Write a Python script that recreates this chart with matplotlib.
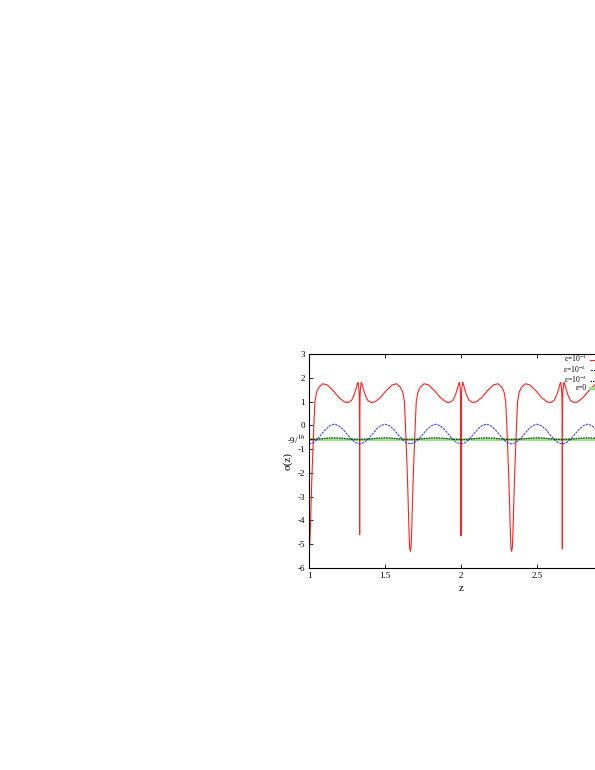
import matplotlib
matplotlib.use("Agg")
import matplotlib.pyplot as plt

# sigma(z) for several epsilon

# eps = 1e-1 (red), dense around the deep dips and the narrow spikes
z_red = [
    1.000, 1.005, 1.010, 1.015, 1.020, 1.026, 1.032, 1.039, 1.050, 1.065, 1.090, 1.120,
    1.160, 1.200, 1.235, 1.258, 1.280, 1.298, 1.310, 1.318, 1.323, 1.328, 1.331, 1.3325,
    1.3333,
    1.3341, 1.3356, 1.3386, 1.3436, 1.3486, 1.3566, 1.3686, 1.3866, 1.4086, 1.4316, 1.4666,
    1.5066, 1.5466, 1.5766, 1.6016, 1.6166, 1.6276, 1.6346, 1.6406, 1.6466, 1.6516, 1.6566,
    1.6616,
    1.6667, 1.6717, 1.6767, 1.6817, 1.6867, 1.6927, 1.6987, 1.7057, 1.7167, 1.7317, 1.7567,
    1.7867, 1.8267, 1.8667, 1.9017, 1.9247, 1.9467, 1.9647, 1.9767, 1.9847, 1.9897, 1.9947,
    1.9977, 1.9992, 2.0000,
    2.0008, 2.0023, 2.0053, 2.0103, 2.0153, 2.0233, 2.0353, 2.0533, 2.0753, 2.0983, 2.1333,
    2.1733, 2.2133, 2.2433, 2.2683, 2.2833, 2.2943, 2.3013, 2.3073, 2.3133, 2.3183, 2.3233,
    2.3283,
    2.3333, 2.3383, 2.3433, 2.3483, 2.3533, 2.3593, 2.3653, 2.3723, 2.3833, 2.3983, 2.4233,
    2.4533, 2.4933, 2.5333, 2.5683, 2.5913, 2.6133, 2.6313, 2.6433, 2.6513, 2.6563, 2.6613,
    2.6643, 2.6658, 2.6667,
    2.6675, 2.6690, 2.6720, 2.6770, 2.6820, 2.6900, 2.7020, 2.7200, 2.7420, 2.7650, 2.8000,
    2.8400, 2.8800, 2.9100, 2.9350, 2.9500, 2.9610, 2.9680, 2.9740, 2.9800, 2.9850, 2.9900,
    2.9950, 3.0000,
]
sig_red = [
    -5.2, -5.0, -4.2, -3.0, -2.0, -1.0, 0.0, 1.0, 1.4, 1.6, 1.75, 1.7,
    1.45, 1.15, 0.98, 0.96, 1.05, 1.3, 1.55, 1.75, 1.8, 1.55, 1.2, 0.0,
    -4.6,
    0.0, 1.2, 1.55, 1.8, 1.75, 1.55, 1.3, 1.05, 0.96, 0.98, 1.15,
    1.45, 1.7, 1.75, 1.6, 1.4, 1.0, 0.0, -1.0, -2.0, -3.0, -4.2,
    -5.1,
    -5.3, -5.1, -4.2, -3.0, -2.0, -1.0, 0.0, 1.0, 1.4, 1.6, 1.75,
    1.7, 1.45, 1.15, 0.98, 0.96, 1.05, 1.3, 1.55, 1.75, 1.8, 1.55,
    1.2, 0.0, -4.65,
    0.0, 1.2, 1.55, 1.8, 1.75, 1.55, 1.3, 1.05, 0.96, 0.98, 1.15,
    1.45, 1.7, 1.75, 1.6, 1.4, 1.0, 0.0, -1.0, -2.0, -3.0, -4.2,
    -5.1,
    -5.3, -5.1, -4.2, -3.0, -2.0, -1.0, 0.0, 1.0, 1.4, 1.6, 1.75,
    1.7, 1.45, 1.15, 0.98, 0.96, 1.05, 1.3, 1.55, 1.75, 1.8, 1.55,
    1.2, 0.0, -5.2,
    0.0, 1.2, 1.55, 1.8, 1.75, 1.55, 1.3, 1.05, 0.96, 0.98, 1.15,
    1.45, 1.7, 1.75, 1.6, 1.4, 1.0, 0.0, -1.0, -2.0, -3.0, -4.2,
    -5.0, -5.2,
]

# common grid for the two smooth curves
z_grid = [
    1.000, 1.028, 1.056, 1.083, 1.111, 1.139, 1.167, 1.194, 1.222, 1.250, 1.278, 1.306,
    1.333, 1.361, 1.389, 1.417, 1.444, 1.472, 1.500, 1.528, 1.556, 1.583, 1.611, 1.639,
    1.667, 1.694, 1.722, 1.750, 1.778, 1.806, 1.833, 1.861, 1.889, 1.917, 1.944, 1.972,
    2.000, 2.028, 2.056, 2.083, 2.111, 2.139, 2.167, 2.194, 2.222, 2.250, 2.278, 2.306,
    2.333, 2.361, 2.389, 2.417, 2.444, 2.472, 2.500, 2.528, 2.556, 2.583, 2.611, 2.639,
    2.667, 2.694, 2.722, 2.750, 2.778, 2.806, 2.833, 2.861, 2.889, 2.917, 2.944, 2.972,
    3.000,
]
# eps = 1e-2 (blue)
sig_blue = [
    -0.78, -0.73, -0.58, -0.37, -0.16, -0.01, 0.05, -0.01, -0.16, -0.37, -0.58, -0.73,
    -0.78, -0.73, -0.58, -0.37, -0.16, -0.01, 0.05, -0.01, -0.16, -0.37, -0.58, -0.73,
    -0.78, -0.73, -0.58, -0.37, -0.16, -0.01, 0.05, -0.01, -0.16, -0.37, -0.58, -0.73,
    -0.78, -0.73, -0.58, -0.37, -0.16, -0.01, 0.05, -0.01, -0.16, -0.37, -0.58, -0.73,
    -0.78, -0.73, -0.58, -0.37, -0.16, -0.01, 0.05, -0.01, -0.16, -0.37, -0.58, -0.73,
    -0.78, -0.73, -0.58, -0.37, -0.16, -0.01, 0.05, -0.01, -0.16, -0.37, -0.58, -0.73,
    -0.78,
]
# eps = 1e-3 (black dashed)
sig_black = [
    -0.60, -0.595, -0.585, -0.565, -0.545, -0.530, -0.525, -0.530, -0.545, -0.565, -0.585, -0.595,
    -0.60, -0.595, -0.585, -0.565, -0.545, -0.530, -0.525, -0.530, -0.545, -0.565, -0.585, -0.595,
    -0.60, -0.595, -0.585, -0.565, -0.545, -0.530, -0.525, -0.530, -0.545, -0.565, -0.585, -0.595,
    -0.60, -0.595, -0.585, -0.565, -0.545, -0.530, -0.525, -0.530, -0.545, -0.565, -0.585, -0.595,
    -0.60, -0.595, -0.585, -0.565, -0.545, -0.530, -0.525, -0.530, -0.545, -0.565, -0.585, -0.595,
    -0.60, -0.595, -0.585, -0.565, -0.545, -0.530, -0.525, -0.530, -0.545, -0.565, -0.585, -0.595,
    -0.60,
]
# eps = 0 (green, constant)
z_green = [1.0, 3.0]
sig_green = [-0.5625, -0.5625]

labels = ["ε=10$^{-1}$", "ε=10$^{-2}$", "ε=10$^{-3}$", "ε=0"]

y_ticks = [3, 2, 1, 0, -0.5625, -1, -2, -3, -4, -5, -6]
y_ticklabels = ["3", "2", "1", "0", "-9/$^{16}$", "-1", "-2", "-3", "-4", "-5", "-6"]
x_ticks = [1, 1.5, 2, 2.5]
x_ticklabels = ["1", "1.5", "2", "2.5"]

plt.rcParams["font.family"] = ["Liberation Serif", "DejaVu Serif"]
plt.rcParams["mathtext.fontset"] = "stix"

fig = plt.figure(figsize=(5.95, 7.7), dpi=100)
# the plot runs off the right edge of the page, as in the reference
ax = fig.add_axes([309 / 595, 202 / 770, 304 / 595, 214 / 770])

ax.plot(z_red, sig_red, color="#ff2020", lw=0.8, label=labels[0])
ax.plot(z_grid, sig_blue, color="#2030ff", lw=0.7, dashes=(2.5, 1), label=labels[1])
ax.plot(z_grid, sig_black, color="#222222", lw=0.9, dashes=(1.2, 0.8), label=labels[2])
ax.plot(z_green, sig_green, color="#99e68a", lw=2.2, label=labels[3], zorder=1)

ax.set_xlim(1, 3)
ax.set_ylim(-6, 3)
ax.set_xticks(x_ticks)
ax.set_xticklabels(x_ticklabels)
ax.set_yticks(y_ticks)
ax.set_yticklabels(y_ticklabels)
ax.tick_params(direction="in", length=3, width=0.6, labelsize=6.5,
               top=True, right=True, pad=3)
for sp in ax.spines.values():
    sp.set_linewidth(0.8)

ax.set_xlabel("z", fontsize=8, labelpad=3)
ax.set_ylabel("σ(z)", fontsize=8)
ax.yaxis.set_label_coords(-0.055, 0.5)

leg = ax.legend(loc="upper right", bbox_to_anchor=(609 / 595, (770 - 353) / 770),
                bbox_transform=fig.transFigure, frameon=False, markerfirst=False,
                fontsize=5.5, handlelength=2.5, handletextpad=0.4,
                labelspacing=-0.12, borderpad=0.0, borderaxespad=0.0)
for txt in leg.get_texts():
    txt.set_ha("right")

fig.savefig("out.png", dpi=100)
